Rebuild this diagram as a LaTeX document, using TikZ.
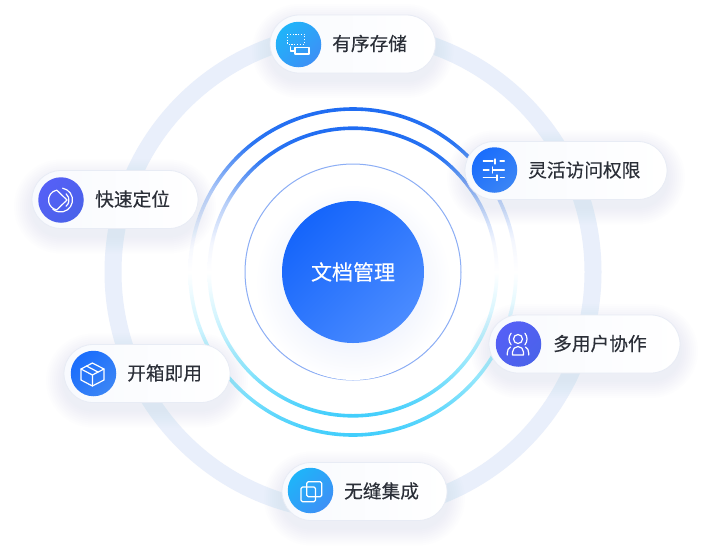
\documentclass[tikz,border=0pt]{standalone}
\usepackage{fontspec}
\setmainfont{Noto Sans CJK SC}[RawFeature={embolden=0.25}]
\definecolor{bandblue}{HTML}{E9EFFB}
\definecolor{thinblue}{HTML}{8CAEF5}
\definecolor{labelgrey}{HTML}{2B2F38}
\definecolor{pillline}{HTML}{E8ECF5}
\definecolor{pillside}{HTML}{F8FAFE}
\definecolor{shadowblue}{HTML}{8A9CCC}
\definecolor{coreglow}{HTML}{DCE4FB}
\definecolor{coretop}{HTML}{1565FB}
\definecolor{corelow}{HTML}{4A8BFF}
\definecolor{cyantop}{HTML}{1FB4F9}
\definecolor{cyanlow}{HTML}{3D90F6}
\definecolor{bluetop}{HTML}{1A6DFC}
\definecolor{bluelow}{HTML}{3B85F5}
\definecolor{violettop}{HTML}{5560F6}
\definecolor{violetlow}{HTML}{4A62EA}
\definecolor{ringa}{HTML}{3FCDFC}
\definecolor{ringb}{HTML}{90E6FC}
\definecolor{ringc}{HTML}{D5F5FE}
\definecolor{ringd}{HTML}{F3F6FE}
\definecolor{ringe}{HTML}{B5CDF8}
\definecolor{ringf}{HTML}{2B75F2}
\definecolor{ringg}{HTML}{1F6CF2}
\pgfdeclareverticalshading{ringfade}{100bp}{color(0bp)=(ringa);color(25bp)=(ringa);color(33.5bp)=(ringb);color(42.5bp)=(ringc);color(50bp)=(white);color(55bp)=(ringd);color(62bp)=(ringe);color(69.5bp)=(ringf);color(75bp)=(ringg);color(100bp)=(ringg)}
\tikzset{
  pillbox/.style={draw=pillline, line width=0.8pt, left color=pillside, right color=white, rounded corners=29pt, minimum height=58pt, inner sep=0pt},
  iconbox/.style={circle, minimum size=45.5pt, inner sep=0pt},
  iconcyan/.style={top color=cyantop, bottom color=cyanlow, shading angle=45},
  iconblue/.style={top color=bluetop, bottom color=bluelow, shading angle=45},
  iconviolet/.style={top color=violettop, bottom color=violetlow, shading angle=45},
  labeltext/.style={anchor=west, inner sep=0pt, text=labelgrey, font=\fontsize{18.7pt}{20pt}\selectfont},
  iconline/.style={draw=white, line width=1.2pt, line cap=round, line join=round},
}
\begin{document}
\begin{tikzpicture}[x=1pt,y=-1pt]
  \useasboundingbox (0,0) rectangle (720,547);
  \fill[white] (0,0) rectangle (720,547);

  \draw[bandblue, line width=17pt] (353,272) circle (240);
  \shade[even odd rule, shading=ringfade] (353,272) circle (164.8) (353,272) circle (161.2);
  \shade[even odd rule, shading=ringfade] (353,272) circle (145.6) (353,272) circle (142);
  \draw[thinblue, line width=1pt] (353,272) circle (108);

  \shade[inner color=coreglow, outer color=white] (353,282) circle (98);
  \node[circle, minimum size=142pt, inner sep=0pt, top color=coretop, bottom color=corelow, shading angle=45] (core) at (353,272) {};
  \node[text=white, font=\fontsize{21pt}{23pt}\selectfont] (corelabel) at (353,272) {文档管理};

  \foreach \pillname/\cx/\cy/\pw/\ix/\iy/\lx/\ic/\txt in {
    store/352.75/44/165.5/298.5/44.5/332/iconcyan/有序存储,
    access/566/170.5/202/494.5/170/528/iconblue/灵活访问权限,
    team/584.5/344/191/518.5/344/553/iconviolet/多用户协作,
    merge/364.5/491.5/165/310.5/490.5/344/iconcyan/无缝集成,
    ready/147/373.5/166/93.5/373.5/127/iconblue/开箱即用,
    locate/115/199.5/166/61/200/95/iconviolet/快速定位} {
    \foreach \s in {2,4,...,18}
      \fill[shadowblue, opacity=0.01, rounded corners=29+\s] (\cx-\pw/2-\s,\cy-29-\s+7) rectangle (\cx+\pw/2+\s,\cy+29+\s+7);
    \node[pillbox, minimum width=\pw pt] (\pillname) at (\cx,\cy) {};
    \node[iconbox, \ic] (\pillname icon) at (\ix,\iy) {};
    \node[labeltext] (\pillname label) at (\lx,\cy-0.5) {\txt};
  }

  \draw[iconline, line width=1pt, dash pattern=on 1.2pt off 1.6pt, line cap=butt] (287.3,34) rectangle (304.3,44);
  \draw[iconline] (295,47.3) rectangle (309,54);
  \draw[iconline] (290.7,47) -- (290.7,51) -- (295,51);

  \draw[iconline] (483.3,161) -- (493,161) (495,159) -- (495,164) (500,161) -- (504.3,161);
  \draw[iconline] (483.3,170) -- (489,170) (492.7,167) -- (492.7,173) (492.7,170) -- (504.3,170);
  \draw[iconline] (483.3,177.7) -- (496.7,177.7) (497,175) -- (497,180.5) (500.5,177.7) -- (504.3,177.7);

  \draw[iconline] (518,339) circle (4.5);
  \draw[iconline] (518,339) ++(140:9) arc[start angle=140, end angle=220, radius=9];
  \draw[iconline] (518,339) ++(-40:9) arc[start angle=-40, end angle=40, radius=9];
  \draw[iconline] (512.5,355) -- (512.5,352) arc[start angle=180, end angle=360, radius=5.5] -- (523.5,355) -- cycle;
  \draw[iconline] (507.3,355) -- (507.3,353) .. controls (507.3,350) and (508.5,348) .. (510.5,347);
  \draw[iconline] (528.7,355) -- (528.7,353) .. controls (528.7,350) and (527.5,348) .. (525.5,347);

  \draw[iconline, rounded corners=1.5pt] (306.7,481.7) rectangle (321.7,496.7);
  \draw[iconline, rounded corners=1.5pt] (301,487) rectangle (315.5,501.7);

  \draw[iconline] (92.4,363) -- (104,369) -- (104,380) -- (92.4,386) -- (81,380) -- (81,369) -- cycle;
  \draw[iconline] (81,369) -- (92.4,375) -- (104,369) (92.4,375) -- (92.4,386);
  \draw[iconline] (86.5,366) -- (98,372);

  \draw[iconline] (60.5,200) ++(-80:12) arc[start angle=-80, end angle=130, radius=12];
  \draw[iconline] (58.5,200) ++(-100:10) arc[start angle=-100, end angle=-260, radius=10] -- (67,200) -- cycle;
  \draw[iconline] (61,200) ++(-50:8) arc[start angle=-50, end angle=50, radius=8];
\end{tikzpicture}
\end{document}
